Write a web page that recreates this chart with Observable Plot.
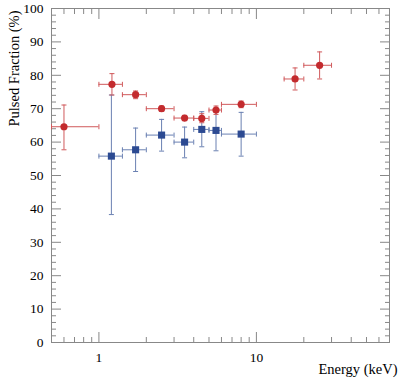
<!DOCTYPE html>
<html>
<head>
<meta charset="utf-8">
<script src="https://cdn.jsdelivr.net/npm/d3@7"></script>
<script src="https://cdn.jsdelivr.net/npm/@observablehq/plot@0.6"></script>
<style>
  html, body { margin: 0; padding: 0; background: #fff; }
  #chart { width: 398px; height: 382px; }
</style>
</head>
<body>
<div id="chart"></div>
<script>
// Red series (circles)
const redE    = [0.6, 1.21, 1.71, 2.5, 3.5, 4.5, 5.54, 8.0, 17.6, 25.2];
const redELo  = [0.5, 1.0, 1.41, 2.0, 3.0, 4.0, 5.0, 6.0, 15.0, 20.0];
const redEHi  = [1.0, 1.41, 2.0, 3.0, 4.0, 5.0, 6.0, 10.0, 20.0, 30.0];
const redPF   = [64.6, 77.3, 74.2, 70.0, 67.2, 67.1, 69.6, 71.3, 78.9, 83.0];
const redPFLo = [57.7, 74.1, 73.0, 69.2, 66.4, 65.8, 68.3, 70.3, 75.6, 78.9];
const redPFHi = [71.1, 80.5, 75.3, 70.8, 68.0, 68.5, 70.8, 72.3, 82.2, 87.0];

// Blue series (squares)
const blueE    = [1.2, 1.71, 2.5, 3.5, 4.5, 5.54, 8.0];
const blueELo  = [1.0, 1.41, 2.0, 3.0, 4.0, 5.0, 6.0];
const blueEHi  = [1.41, 2.0, 3.0, 4.0, 5.0, 6.0, 10.0];
const bluePF   = [55.8, 57.7, 62.1, 60.0, 63.8, 63.5, 62.4];
const bluePFLo = [38.3, 51.2, 57.3, 55.3, 58.6, 57.4, 55.8];
const bluePFHi = [74.1, 64.2, 66.8, 64.5, 69.1, 69.8, 68.9];

// Axis ticks
const xMajor = [1, 10];
const xMinor = [0.6, 0.7, 0.8, 0.9, 2, 3, 4, 5, 6, 7, 8, 9, 20, 30, 40, 50, 60, 70];
const yMajor = [0, 10, 20, 30, 40, 50, 60, 70, 80, 90, 100];
const yMinor = [2, 4, 6, 8, 12, 14, 16, 18, 22, 24, 26, 28, 32, 34, 36, 38, 42, 44, 46, 48,
                52, 54, 56, 58, 62, 64, 66, 68, 72, 74, 76, 78, 82, 84, 86, 88, 92, 94, 96, 98];

const xTitle = "Energy (keV)";
const yTitle = "Pulsed Fraction (%)";

const red = redE.map((e, i) => ({e, elo: redELo[i], ehi: redEHi[i], pf: redPF[i], lo: redPFLo[i], hi: redPFHi[i]}));
const blue = blueE.map((e, i) => ({e, elo: blueELo[i], ehi: blueEHi[i], pf: bluePF[i], lo: bluePFLo[i], hi: bluePFHi[i]}));

const capH = {draw(ctx, size) { const r = Math.sqrt(size / Math.PI); ctx.moveTo(-r, 0); ctx.lineTo(r, 0); }};
const capV = {draw(ctx, size) { const r = Math.sqrt(size / Math.PI); ctx.moveTo(0, -r); ctx.lineTo(0, r); }};

const redC = "#c32b2e", redBar = "#d0595b";
const blueC = "#2c4a92", blueBar = "#6a80b2";
const axisC = "#888";
const blank = () => "";

function errorMarks(data, barColor) {
  return [
    Plot.ruleX(data, {x: "e", y1: "lo", y2: "hi", stroke: barColor, strokeWidth: 1}),
    Plot.ruleY(data, {y: "pf", x1: "elo", x2: "ehi", stroke: barColor, strokeWidth: 1}),
    Plot.dot(data, {x: "e", y: "lo", symbol: capH, r: 2.5, stroke: barColor, strokeWidth: 1, fill: "none"}),
    Plot.dot(data, {x: "e", y: "hi", symbol: capH, r: 2.5, stroke: barColor, strokeWidth: 1, fill: "none"}),
    Plot.dot(data, {x: "elo", y: "pf", symbol: capV, r: 2.5, stroke: barColor, strokeWidth: 1, fill: "none"}),
    Plot.dot(data, {x: "ehi", y: "pf", symbol: capV, r: 2.5, stroke: barColor, strokeWidth: 1, fill: "none"})
  ];
}

const chart = Plot.plot({
  width: 398,
  height: 382,
  marginLeft: 51,
  marginRight: 9,
  marginTop: 8,
  marginBottom: 40,
  style: {fontFamily: "'Liberation Serif', 'DejaVu Serif', serif", fontSize: "13.5px", background: "#fff", color: "#000"},
  x: {type: "log", domain: [0.5, 70]},
  y: {domain: [0, 100]},
  marks: [
    Plot.frame({stroke: axisC}),
    // tick marks (inward)
    Plot.axisX(xMajor, {anchor: "bottom", tickSize: -10, stroke: axisC, tickFormat: blank, label: null}),
    Plot.axisX(xMinor, {anchor: "bottom", tickSize: -5, stroke: axisC, tickFormat: blank, label: null}),
    Plot.axisX(xMajor, {anchor: "top", tickSize: -10, stroke: axisC, tickFormat: blank, label: null}),
    Plot.axisX(xMinor, {anchor: "top", tickSize: -5, stroke: axisC, tickFormat: blank, label: null}),
    Plot.axisY(yMajor, {anchor: "left", tickSize: -10, stroke: axisC, tickFormat: blank, label: null}),
    Plot.axisY(yMinor, {anchor: "left", tickSize: -5, stroke: axisC, tickFormat: blank, label: null}),
    Plot.axisY(yMajor, {anchor: "right", tickSize: -10, stroke: axisC, tickFormat: blank, label: null}),
    Plot.axisY(yMinor, {anchor: "right", tickSize: -5, stroke: axisC, tickFormat: blank, label: null}),
    // tick labels
    Plot.axisX(xMajor, {anchor: "bottom", tickSize: 0, tickPadding: 10, fontSize: 13.5, fill: "#000", tickFormat: d => String(d), label: null}),
    Plot.axisY(yMajor, {anchor: "left", tickSize: 0, tickPadding: 8, fontSize: 13.5, fill: "#000", tickFormat: d => String(d), label: null}),
    // titles
    Plot.text([xTitle], {text: d => d, frameAnchor: "bottom-right", textAnchor: "end", dx: 8, dy: 31, fontSize: 14.5, fill: "#000"}),
    Plot.text([yTitle], {text: d => d, frameAnchor: "top-left", rotate: -90, textAnchor: "end", dx: -43, dy: 2, fontSize: 14.5, fill: "#000"}),
    // data
    ...errorMarks(blue, blueBar),
    Plot.dot(blue, {x: "e", y: "pf", symbol: "square", r: 4, fill: blueC, stroke: "none"}),
    ...errorMarks(red, redBar),
    Plot.dot(red, {x: "e", y: "pf", symbol: "circle", r: 3.6, fill: redC, stroke: "none"})
  ]
});
document.getElementById("chart").appendChild(chart);
</script>
</body>
</html>
